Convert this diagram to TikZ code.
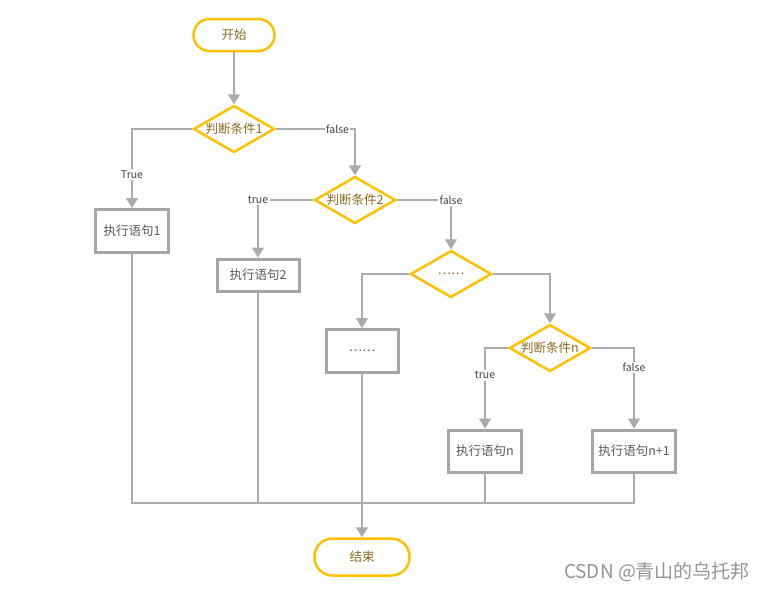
\documentclass[tikz,border=0pt]{standalone}
\usepackage{fontspec}
\setmainfont{Noto Sans CJK SC}
\usetikzlibrary{arrows.meta,shapes.geometric}
\definecolor{CondGold}{HTML}{FFC000}
\definecolor{TermText}{HTML}{8C6B1F}
\definecolor{LineGray}{HTML}{ABABAB}
\definecolor{BoxGray}{HTML}{A6A6A6}
\definecolor{StmtText}{HTML}{595959}
\definecolor{LabelGray}{HTML}{404040}
\definecolor{WaterGray}{HTML}{949494}
\tikzset{
  terminal/.style={draw=CondGold, line width=2.5pt, rounded corners=16pt, fill=white,
    text=TermText, minimum width=81pt, minimum height=32pt, inner sep=0pt},
  cond/.style={diamond, draw=CondGold, line width=2.5pt, fill=white, text=TermText,
    minimum width=81pt, minimum height=47pt, inner sep=0pt},
  stmt/.style={draw=BoxGray, line width=3pt, fill=white, text=StmtText,
    minimum width=73pt, minimum height=43pt, inner sep=0pt},
  flow/.style={LineGray, line width=1.4pt, -{Triangle[length=10pt,width=12pt]}},
  link/.style={LineGray, line width=1.4pt},
  branch/.style={fill=white, text=LabelGray, font=\fontsize{10.5}{12}\selectfont, inner sep=1.5pt}
}

\begin{document}
\begin{tikzpicture}[x=1pt, y=-1pt, font=\fontsize{12.5}{14}\selectfont]
  \fill[white] (0,0) rectangle (766,590);
  \useasboundingbox (0,0) rectangle (766,590);

  \node[terminal] (start) at (234,35) {开始};
  \node[cond] (d1) at (234,129) {\makebox[0pt]{判断条件1}};
  \node[stmt] (s1) at (132,231) {执行语句1};
  \node[cond] (d2) at (355,200) {\makebox[0pt]{判断条件2}};
  \node[stmt, minimum width=82pt, minimum height=32pt] (s2) at (258,275) {执行语句2};
  \node[cond] (d3) at (451,274) {\makebox[0pt]{……}};
  \node[stmt, minimum width=72pt] (s3) at (362,351) {……};
  \node[cond] (dn) at (550,348) {\makebox[0pt]{判断条件n}};
  \node[stmt, minimum height=42pt] (sn) at (485,451) {执行语句n};
  \node[stmt, minimum width=83pt, minimum height=42pt] (sn1) at (634,451) {执行语句n+1};
  \node[terminal, minimum width=95pt, minimum height=37pt, rounded corners=18pt] (end) at (362,557) {结束};

  \draw[flow] (start) -- (d1);
  \draw[flow] (d1.west) -| node[branch, pos=0.79] {True} (s1.north);
  \draw[flow] (d1.east) -| node[branch, pos=0.39] {false} (d2.north);
  \draw[flow] (d2.west) -| node[branch, pos=0.5] {true} (s2.north);
  \draw[flow] (d2.east) -| node[branch, pos=0.5] {false} (d3.north);
  \draw[flow] (d3.west) -| (s3.north);
  \draw[flow] (d3.east) -| (dn.north);
  \draw[flow] (dn.west) -| node[branch, pos=0.67] {true} (sn.north);
  \draw[flow] (dn.east) -| node[branch, pos=0.62] {false} (sn1.north);

  % everything meets above the end node
  \coordinate (merge) at (362,503);
  \draw[link] (s1.south) |- (merge);
  \draw[link] (s2.south) |- (merge);
  \draw[link] (sn.south) |- (merge);
  \draw[link] (sn1.south) |- (merge);
  \draw[flow] (s3.south) -- (end.north);

  \node[text=WaterGray, font=\fontsize{19}{22}\selectfont] (wm) at (657,572) {CSDN @青山的乌托邦};
\end{tikzpicture}
\end{document}
